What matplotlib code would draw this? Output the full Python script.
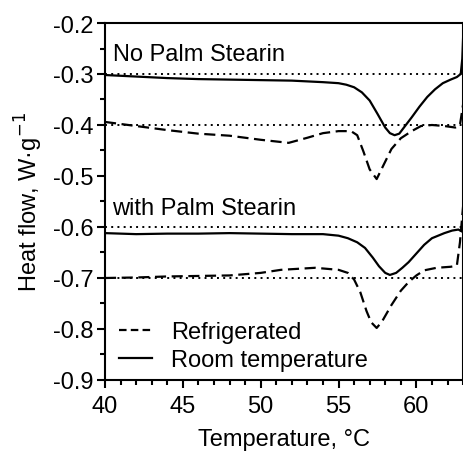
import matplotlib
matplotlib.use("Agg")
import matplotlib.pyplot as plt
from matplotlib.ticker import MultipleLocator
from matplotlib.lines import Line2D

plt.rcParams.update({'font.size': 17, 'font.family': ['Liberation Sans', 'DejaVu Sans']})

# room temperature, no palm stearin
t_rt_no = [40, 42, 44, 46, 48, 50, 52, 54, 55, 55.5, 56, 56.5, 57, 57.5, 58, 58.3, 58.6,
           58.9, 59.2, 59.7, 60.2, 60.7, 61.2, 61.7, 62.2, 62.6, 62.85, 62.95, 63]
hf_rt_no = [-0.302, -0.305, -0.308, -0.310, -0.311, -0.312, -0.313, -0.316, -0.318, -0.321,
            -0.326, -0.336, -0.352, -0.378, -0.405, -0.416, -0.420, -0.417, -0.405, -0.385,
            -0.364, -0.345, -0.330, -0.318, -0.311, -0.306, -0.300, -0.27, -0.23]

# refrigerated, no palm stearin
t_ref_no = [40, 42, 44, 46, 48, 50, 51.8, 53, 54, 55, 55.8, 56.2, 56.6, 57, 57.45, 57.9,
            58.4, 59, 59.7, 60.3, 61, 61.8, 62.5, 62.8, 63]
hf_ref_no = [-0.394, -0.402, -0.410, -0.417, -0.421, -0.429, -0.435, -0.425, -0.416, -0.412,
             -0.412, -0.420, -0.452, -0.487, -0.506, -0.478, -0.447, -0.426, -0.412, -0.402,
             -0.400, -0.402, -0.405, -0.400, -0.36]

# room temperature, with palm stearin
t_rt_ps = [40, 42, 44, 46, 48, 50, 52, 54, 55, 55.6, 56.2, 56.7, 57.2, 57.6, 58, 58.3, 58.7,
           59.1, 59.5, 60, 60.5, 61, 61.8, 62.3, 62.7, 63]
hf_rt_ps = [-0.612, -0.614, -0.613, -0.613, -0.612, -0.613, -0.614, -0.614, -0.617, -0.622,
            -0.630, -0.641, -0.660, -0.677, -0.690, -0.694, -0.690, -0.680, -0.669, -0.652,
            -0.635, -0.622, -0.612, -0.607, -0.605, -0.61]

# refrigerated, with palm stearin
t_ref_ps = [40, 42, 44, 46, 48, 50, 51.3, 53.5, 55, 55.6, 56, 56.4, 56.8, 57.1, 57.45, 57.8,
            58.4, 59, 59.5, 60, 60.5, 61.3, 62.2, 62.6, 62.8, 63]
hf_ref_ps = [-0.700, -0.699, -0.697, -0.696, -0.695, -0.690, -0.684, -0.680, -0.684, -0.690,
             -0.703, -0.728, -0.765, -0.787, -0.798, -0.785, -0.753, -0.725, -0.708, -0.695,
             -0.685, -0.680, -0.678, -0.676, -0.63, -0.56]

baselines = [-0.3, -0.4, -0.6, -0.7]

fig = plt.figure(figsize=(4.64, 4.52), dpi=100)
ax = fig.add_axes([0.2263, 0.1571, 0.7717, 0.7898])

for b in baselines:
    ax.axhline(b, color='black', linestyle=(0, (1, 2.2)), linewidth=1.4)

ax.plot(t_ref_no, hf_ref_no, color='black', linestyle=(0, (5, 2.5)), linewidth=1.6)
ax.plot(t_ref_ps, hf_ref_ps, color='black', linestyle=(0, (5, 2.5)), linewidth=1.6)
ax.plot(t_rt_no, hf_rt_no, color='black', linestyle='-', linewidth=1.6)
ax.plot(t_rt_ps, hf_rt_ps, color='black', linestyle='-', linewidth=1.6)

ax.text(40.5, -0.26, 'No Palm Stearin', va='center', ha='left')
ax.text(40.45, -0.563, 'with Palm Stearin', va='center', ha='left')

ax.set_xlim(40, 63)
ax.set_ylim(-0.9, -0.2)
ax.xaxis.set_major_locator(MultipleLocator(5))
ax.xaxis.set_minor_locator(MultipleLocator(1))
ax.yaxis.set_major_locator(MultipleLocator(0.1))
ax.yaxis.set_minor_locator(MultipleLocator(0.05))
ax.set_yticklabels([f'{v:.1f}' for v in ax.get_yticks()])
ax.tick_params(which='major', direction='out', length=6, width=1.5)
ax.tick_params(axis='x', which='major', pad=5)
ax.tick_params(axis='y', which='major', pad=2)
ax.tick_params(which='minor', direction='out', length=3.5, width=1.5)
for s in ax.spines.values():
    s.set_linewidth(1.5)

ax.set_xlabel('Temperature, °C', labelpad=8)
ax.set_ylabel('Heat flow, W·g$^{-1}$', labelpad=6)

handles = [Line2D([], [], color='black', linestyle=(0, (3.4, 1.9)), linewidth=1.6),
           Line2D([], [], color='black', linestyle='-', linewidth=1.6)]
ax.legend(handles, ['Refrigerated', 'Room temperature'], loc='lower left', frameon=False,
          handlelength=1.4, handletextpad=0.8, labelspacing=0.25, borderaxespad=0.2,
          bbox_to_anchor=(0.0, -0.015))

fig.savefig('out.png', dpi=100)
